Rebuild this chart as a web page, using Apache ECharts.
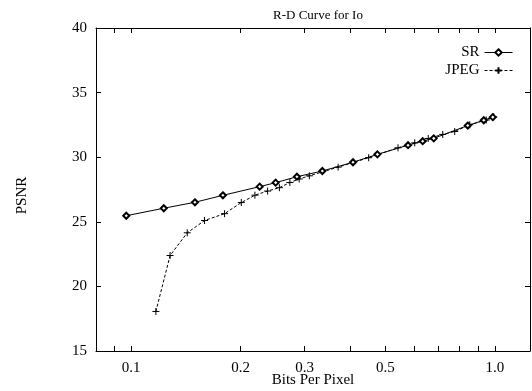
<!DOCTYPE html>
<html>
<head>
<meta charset="utf-8">
<script src="https://cdn.jsdelivr.net/npm/echarts@6/dist/echarts.min.js"></script>
<style>html,body{margin:0;padding:0;background:#fff}#c{width:532px;height:391px}</style>
</head>
<body>
<div id="c"></div>
<script>
// Data
const srBpp  = [0.0969, 0.1229, 0.1497, 0.1787, 0.2256, 0.2496, 0.2856, 0.3355, 0.4074, 0.4755, 0.5773, 0.6335, 0.6795, 0.8427, 0.9326, 0.9874];
const srPsnr = [25.47, 26.05, 26.51, 27.05, 27.72, 28.03, 28.49, 28.93, 29.61, 30.22, 30.93, 31.24, 31.46, 32.45, 32.86, 33.10];
const jpegBpp  = [0.1169, 0.1279, 0.1426, 0.1591, 0.1806, 0.2008, 0.2189, 0.2372, 0.2556, 0.2731, 0.2897, 0.3090, 0.3708, 0.4499, 0.5418, 0.6023, 0.6561, 0.7192, 0.7759, 0.8537, 0.9475, 0.9936];
const jpegPsnr = [18.06, 22.39, 24.15, 25.10, 25.63, 26.49, 27.06, 27.38, 27.64, 28.04, 28.31, 28.56, 29.23, 29.96, 30.73, 31.11, 31.45, 31.76, 31.99, 32.51, 32.88, 33.13];
const xTickValues  = [0.09, 0.1, 0.2, 0.3, 0.4, 0.5, 0.6, 0.7, 0.8, 0.9, 1.0];
const xLabelValues = [0.1, 0.2, 0.3, 0.5, 1.0];
const yTicks = [15, 20, 25, 30, 35, 40];
const titleText = 'R-D Curve for Io';
const xName = 'Bits Per Pixel';
const yName = 'PSNR';
const seriesNames = ['SR', 'JPEG'];

const FONT = '"Liberation Serif", "DejaVu Serif", serif';
const chart = echarts.init(document.getElementById('c'), null, {renderer: 'canvas'});

function xAxisCfg(pos, showLabel) {
  return {
    type: 'log', logBase: 10, min: 0.08, max: 1.25, position: pos,
    axisLine: {show: true, lineStyle: {color: '#000', width: 1}},
    axisTick: {show: true, inside: true, length: 5, lineStyle: {color: '#000', width: 1}, customValues: xTickValues},
    axisLabel: {show: showLabel, customValues: xLabelValues, margin: 10, color: '#000', fontFamily: FONT, fontSize: 15,
      formatter: v => (Math.round(v * 10) / 10).toFixed(1)},
    splitLine: {show: false}, minorTick: {show: false},
    name: showLabel ? xName : '', nameLocation: 'middle', nameGap: 22, nameMoveOverlap: false,
    nameTextStyle: {color: '#000', fontFamily: FONT, fontSize: 15}
  };
}
function yAxisCfg(pos, showLabel) {
  return {
    type: 'value', min: 15, max: 40, interval: 5, position: pos,
    axisLine: {show: true, lineStyle: {color: '#000', width: 1}},
    axisTick: {show: true, inside: true, length: 5, lineStyle: {color: '#000', width: 1}, customValues: yTicks},
    axisLabel: {show: showLabel, margin: 9, color: '#000', fontFamily: FONT, fontSize: 15},
    splitLine: {show: false},
    name: showLabel ? yName : '', nameLocation: 'middle', nameGap: 66, nameRotate: 90, nameMoveOverlap: false,
    nameTextStyle: {color: '#000', fontFamily: FONT, fontSize: 15, padding: [0, 12, 0, 0]}
  };
}

const plusPath = 'path://M0,5L10,5M5,0L5,10';

chart.setOption({
  animation: false,
  backgroundColor: '#fff',
  title: {text: titleText, left: 313, top: 4, textAlign: 'center',
    textStyle: {color: '#000', fontFamily: FONT, fontSize: 13, fontWeight: 'normal'}},
  grid: {left: 96, right: 2, top: 28, bottom: 40, containLabel: false, outerBoundsMode: 'none'},
  legend: {
    orient: 'vertical', right: 14, top: 40, align: 'right', itemGap: 3,
    itemWidth: 28, itemHeight: 8,
    lineStyle: {width: 1},
    textStyle: {color: '#000', fontFamily: FONT, fontSize: 15},
    data: seriesNames
  },
  xAxis: [xAxisCfg('bottom', true), xAxisCfg('top', false)],
  yAxis: [yAxisCfg('left', true), yAxisCfg('right', false)],
  series: [
    {
      name: seriesNames[0], type: 'line', xAxisIndex: 0, yAxisIndex: 0,
      data: srBpp.map((x, i) => [x, srPsnr[i]]),
      symbol: 'emptyDiamond', symbolSize: 6,
      lineStyle: {color: '#000', width: 1},
      itemStyle: {color: '#000', borderColor: '#000', borderWidth: 1},
      z: 3
    },
    {
      name: seriesNames[1], type: 'line', xAxisIndex: 0, yAxisIndex: 0,
      data: jpegBpp.map((x, i) => [x, jpegPsnr[i]]),
      symbol: plusPath, symbolSize: 7,
      lineStyle: {color: '#000', width: 1, type: [3, 2]},
      itemStyle: {color: 'none', borderColor: '#000', borderWidth: 1},
      z: 2
    }
  ]
});
</script>
</body>
</html>
